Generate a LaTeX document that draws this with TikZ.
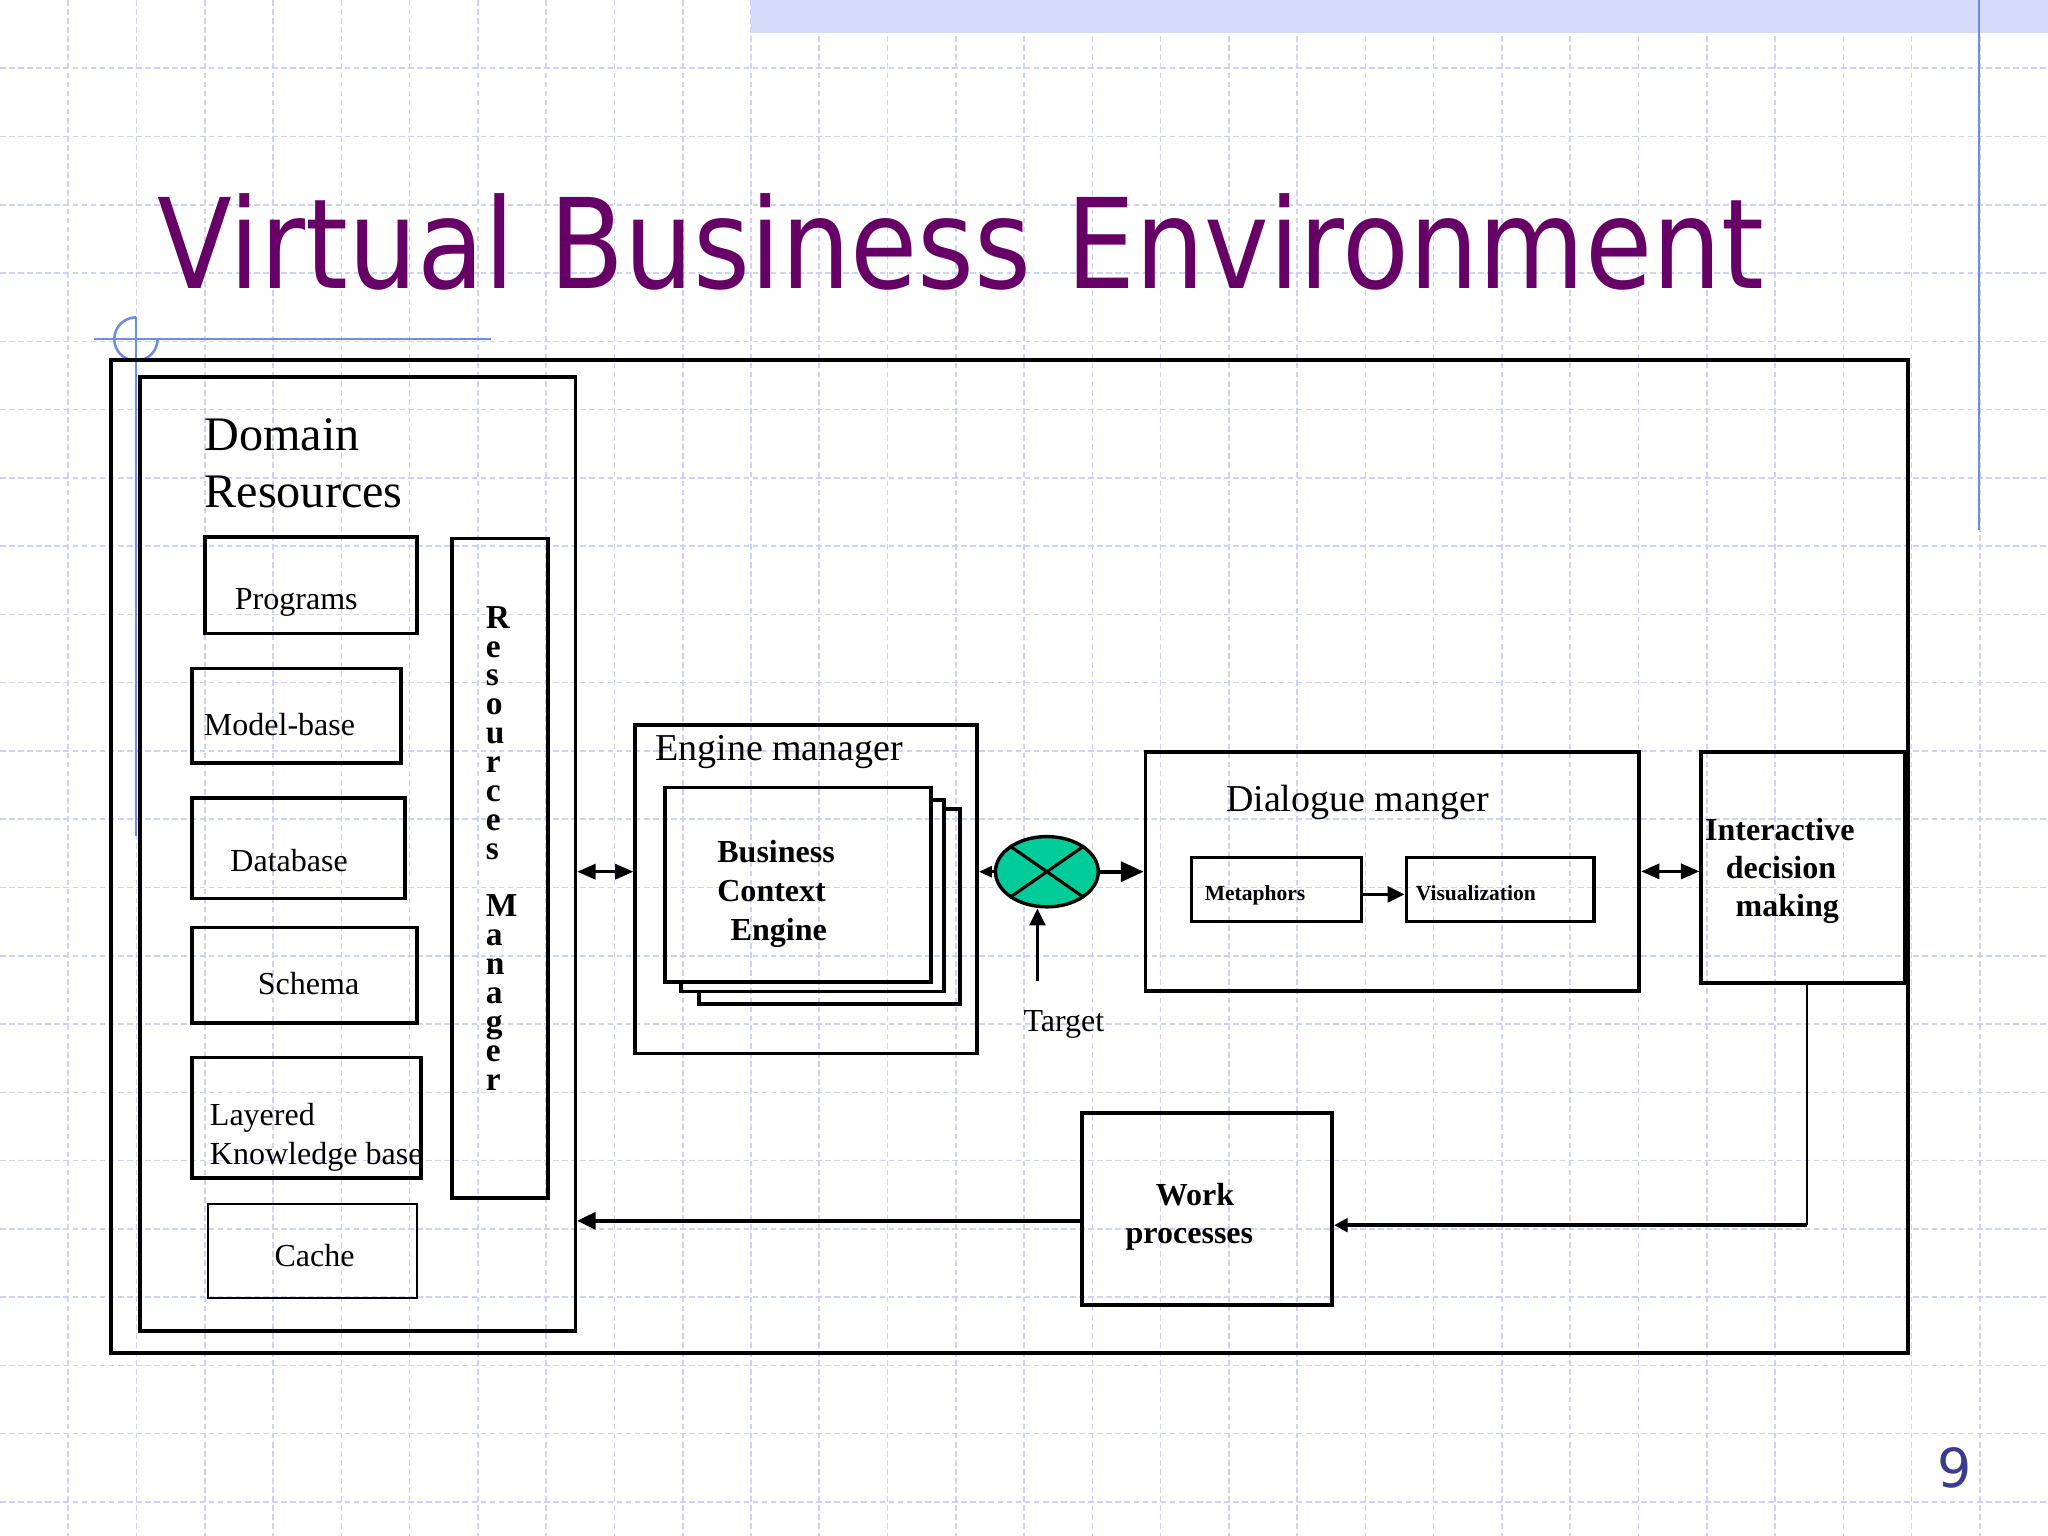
\documentclass[tikz,border=0pt]{standalone}
\usepackage{fontspec}
\setmainfont{Liberation Serif}
\newfontfamily\titlefont{DejaVu Sans}
\usetikzlibrary{arrows.meta,shapes.geometric,fit,calc}
\definecolor{titlepurple}{RGB}{102,0,102}
\definecolor{decoblue}{RGB}{110,140,228}
\definecolor{gridc}{RGB}{206,211,244}
\definecolor{bandc}{RGB}{212,218,247}
\definecolor{mergefill}{RGB}{0,204,153}
\definecolor{pagenum}{RGB}{60,60,140}
\begin{document}
\begin{tikzpicture}[x=0.4609pt, y=-0.4609pt,
  box/.style={draw, line width=1.3pt, inner sep=0pt},
  thinbox/.style={draw, line width=0.7pt, inner sep=0pt},
  smallbox/.style={draw, line width=1.1pt, inner sep=0pt},
  lbl/.style={anchor=base west, inner sep=0pt, font=\fontsize{11.3}{13}\selectfont},
  biglbl/.style={anchor=base west, inner sep=0pt, font=\fontsize{17}{20}\selectfont},
  midlbl/.style={anchor=base west, inner sep=0pt, font=\fontsize{13.4}{16}\selectfont},
  boldlbl/.style={anchor=base west, inner sep=0pt, font=\fontsize{11.3}{13}\selectfont\bfseries},
  boldc/.style={anchor=base, inner sep=0pt, font=\fontsize{11.3}{13}\selectfont\bfseries},
  tinylbl/.style={anchor=base west, inner sep=0pt, font=\fontsize{7.6}{9}\selectfont\bfseries},
  rmletters/.style={anchor=base west, inner sep=0pt, font=\fontsize{11.8}{13}\selectfont\bfseries},
  gridline/.style={gridc, line width=0.55pt, dash pattern=on 2pt off 1.2pt},
  deco/.style={decoblue, line width=0.9pt},
  darr/.style={line width=1.2pt, {Triangle[length=6.5pt,width=5.3pt]}-{Triangle[length=6.5pt,width=5.3pt]}},
  arrs/.style={line width=1.2pt, -{Triangle[length=4.6pt,width=3.8pt]}},
  arrb/.style={line width=1.3pt, -{Triangle[length=8pt,width=7pt]}},
  arrt/.style={line width=1.2pt, -{Triangle[length=5.9pt,width=5.5pt]}},
  arrmv/.style={line width=1.3pt, -{Triangle[length=6pt,width=5.5pt]}},
  arriw/.style={line width=1.4pt, -{Triangle[length=4.8pt,width=4.8pt]}},
  arrwd/.style={line width=1.2pt, -{Triangle[length=6.5pt,width=6pt]}}
]
% page and background
\fill[white] (0,0) rectangle (1568,1176);
\useasboundingbox (0,0) rectangle (1568,1176);
\foreach \k in {1,...,29} \draw[gridline] ({\k*52.27},0) -- ({\k*52.27},1176);
\foreach \k in {1,...,22} \draw[gridline] (0,{\k*52.27}) -- (1568,{\k*52.27});
\fill[bandc] (575,0) rectangle (1568,25.5);
\draw[deco] (1515,0) -- (1515,405.8);

% title
\node[anchor=base west, inner sep=0pt, text=titlepurple] (title) at (120,220.8)
  {\resizebox{567pt}{33.5pt}{\titlefont Virtual Business Environment}};

% decoration at left
\draw[deco] (72,259.6) -- (376,259.6);
\draw[deco] (104.1,243) -- (104.1,640);
\draw[deco] (104.1,243) arc[start angle=90, end angle=360, radius=7.65pt];

% boxes
\node[box, line width=1.4pt, fit={(85,275.7) (1461,1036)}] (outer) {};
\node[box, fit={(107.2,288.4) (440.5,1019)}] (dom) {};
\node[box, fit={(157,411.4) (319,485)}] (prog) {};
\node[box, fit={(146.8,511.7) (307,584)}] (model) {};
\node[box, fit={(147,611) (310,688)}] (db) {};
\node[box, fit={(147,710) (319,783)}] (schema) {};
\node[box, fit={(146.8,809.6) (322.4,901.7)}] (layer) {};
\node[thinbox, fit={(159.5,921.9) (319,994.1)}] (cache) {};
\node[box, fit={(346.3,412.2) (419.8,917)}] (rm) {};
\node[box, fit={(486.4,555.1) (748,806.5)}] (eng) {};
\draw[line width=1.3pt] (713,612.5) -- (722.6,612.5) -- (722.6,759) -- (521.6,759) -- (521.6,752);
\draw[line width=1.3pt] (722.6,619.6) -- (735,619.6) -- (735,768.7) -- (535,768.7) -- (535,759);
\node[box, fit={(509,603) (713,752)}] (bce) {};
\node[box, fit={(877,575.5) (1255,758.8)}] (dia) {};
\node[smallbox, fit={(911.9,656.7) (1042.6,705.2)}] (met) {};
\node[smallbox, fit={(1076.6,656.7) (1220.4,705.2)}] (vis) {};
\node[box, fit={(1302.5,575.5) (1458.5,752.4)}] (ida) {};
\node[box, fit={(828.6,852) (1020,999)}] (work) {};
\node[draw, ellipse, line width=1.2pt, fill=mergefill, inner sep=0pt,
      minimum width=36.3pt, minimum height=24.8pt] (m) at (801.5,667.4) {};
\draw[line width=1.1pt] ($(m.center)+(-28.5,-19.8)$) -- ($(m.center)+(28.5,19.8)$);
\draw[line width=1.1pt] ($(m.center)+(28.5,-19.8)$) -- ($(m.center)+(-28.5,19.8)$);

% texts
\node[biglbl] (dom1) at (156.2,344.6) {Domain};
\node[biglbl] (dom2) at (156.2,388.4) {Resources};
\node[lbl] (progt) at (179.4,466.6) {Programs};
\node[lbl] (modelt) at (155.7,562.8) {Model-base};
\node[lbl] (dbt) at (176,667) {Database};
\node[lbl] (scht) at (197,761.5) {Schema};
\node[lbl] (lay1) at (160.3,861.4) {Layered};
\node[lbl] (lay2) at (160.3,891.5) {Knowledge base};
\node[lbl] (cachet) at (209.8,969.9) {Cache};
\node[rmletters] (rmt) at (371.5,481)
  {\vtop{\baselineskip=10.186pt\lineskiplimit=-100pt\lineskip=0pt
   \hbox{R}\hbox{e}\hbox{s}\hbox{o}\hbox{u}\hbox{r}\hbox{c}\hbox{e}\hbox{s}\hbox{}%
   \hbox{M}\hbox{a}\hbox{n}\hbox{a}\hbox{g}\hbox{e}\hbox{r}}};
\node[midlbl] (engt) at (501.3,582) {Engine manager};
\node[boldlbl] (bce1) at (548.8,660.3) {Business};
\node[boldlbl] (bce2) at (548.8,690.4) {Context};
\node[boldlbl] (bce3) at (559,719.8) {Engine};
\node[lbl] (target) at (783.2,790) {Target};
\node[midlbl] (diat) at (938.3,621) {Dialogue manger};
\node[tinylbl] (mett) at (922,689.6) {Metaphors};
\node[tinylbl] (vist) at (1083.5,689.6) {Visualization};
\node[boldc] (ida1) at (1362.7,643.2) {Interactive};
\node[boldc] (ida2) at (1363.6,672.5) {decision};
\node[boldc] (ida3) at (1368.4,701.9) {making};
\node[boldlbl] (work1) at (884.5,922.7) {Work};
\node[boldlbl] (work2) at (861.4,952) {processes};
\node[anchor=base, inner sep=0pt, text=pagenum, font=\titlefont\fontsize{19}{22}\selectfont] (pg) at (1496.2,1138.6) {9};

% connectors
\draw[darr] (dom.east |- m.center) -- (eng.west |- m.center);
\draw[arrs] (m.west) -- (eng.east |- m.west);
\draw[arrb] (m.east) -- (dia.west |- m.east);
\coordinate (tb) at (794.3,750.9);
\draw[arrt] (tb) -- (tb |- m.south);
\draw[arrmv] ($(met.east)+(0,3.8)$) -- ($(vis.west)+(0,3.8)$);
\draw[darr] (dia.east) -- (dia.east -| ida.west);
\coordinate (corner) at (1383.5,938);
\draw[line width=0.9pt] ($(ida.south)+(3,0)$) -- (corner);
\draw[arriw] (corner) -- (corner -| work.east);
\coordinate (wl) at ($(work.west)+(0,9.2)$);
\draw[arrwd] (wl) -- (wl -| dom.east);
\end{tikzpicture}
\end{document}
